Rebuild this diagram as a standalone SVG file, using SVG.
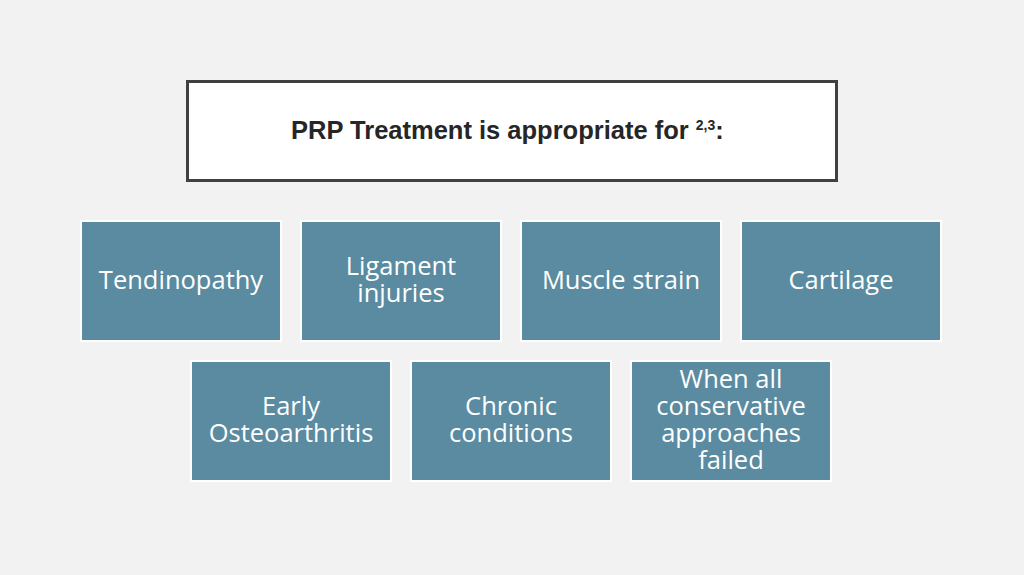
<svg xmlns="http://www.w3.org/2000/svg" width="1024" height="575" viewBox="0 0 1024 575">
<style>
.b{fill:#5a8ba0;stroke:#ffffff;stroke-width:2}
.t{font-family:"Open Sans",sans-serif;font-size:25.5px;fill:#ffffff;text-anchor:middle}
.h{font-family:"Liberation Sans",Arial,sans-serif;font-weight:bold;fill:#262626}
</style>
<rect width="1024" height="575" fill="#f2f2f2"/>
<g id="title"><rect x="187.5" y="81.5" width="649" height="99" fill="#ffffff" stroke="#404040" stroke-width="3"/>
<text class="h" x="291" y="139" font-size="25.5">PRP Treatment is appropriate for <tspan font-size="14" dy="-9">2,3</tspan><tspan dy="9">:</tspan></text></g>
<g id="n1"><rect class="b" x="81" y="221" width="200" height="120"/><text class="t" x="181" y="289">Tendinopathy</text></g>
<g id="n2"><rect class="b" x="301" y="221" width="200" height="120"/><text class="t" x="401" y="275">Ligament</text><text class="t" x="401" y="302">injuries</text></g>
<g id="n3"><rect class="b" x="521" y="221" width="200" height="120"/><text class="t" x="621" y="289">Muscle strain</text></g>
<g id="n4"><rect class="b" x="741" y="221" width="200" height="120"/><text class="t" x="841" y="289">Cartilage</text></g>
<g id="n5"><rect class="b" x="191" y="361" width="200" height="120"/><text class="t" x="291" y="415">Early</text><text class="t" x="291" y="442">Osteoarthritis</text></g>
<g id="n6"><rect class="b" x="411" y="361" width="200" height="120"/><text class="t" x="511" y="415">Chronic</text><text class="t" x="511" y="442">conditions</text></g>
<g id="n7"><rect class="b" x="631" y="361" width="200" height="120"/><text class="t" x="731" y="388">When all</text><text class="t" x="731" y="415">conservative</text><text class="t" x="731" y="442">approaches</text><text class="t" x="731" y="469">failed</text></g>
<g id="connectors"/>
</svg>
